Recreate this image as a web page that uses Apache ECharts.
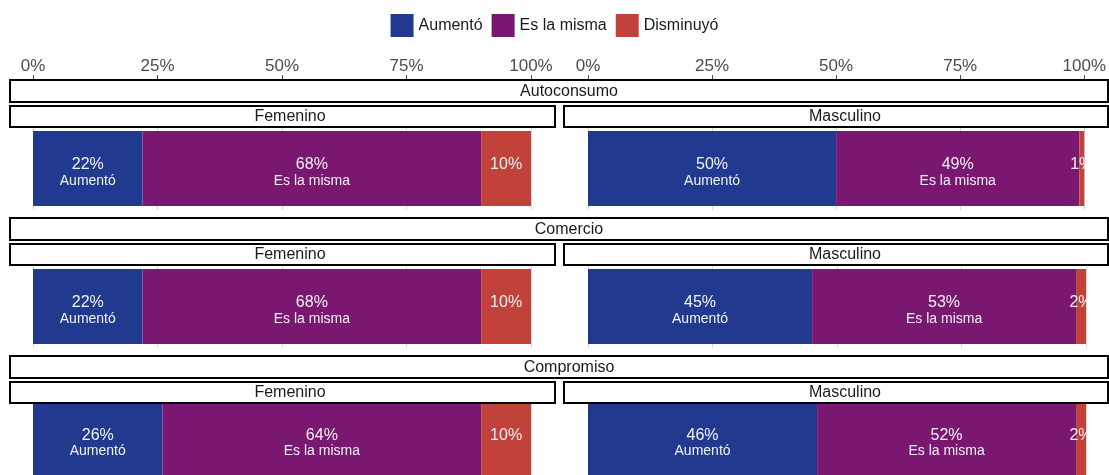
<!DOCTYPE html>
<html>
<head>
<meta charset="utf-8">
<script src="https://cdn.jsdelivr.net/npm/echarts@6/dist/echarts.min.js"></script>
<style>html,body{margin:0;padding:0;background:#fff;}#c{width:1109px;height:475px;}</style>
</head>
<body>
<div id="c"></div>
<script>
const categories = ['Autoconsumo', 'Comercio', 'Compromiso'];
const panels = ['Femenino', 'Masculino'];
const seriesNames = ['Aumentó', 'Es la misma', 'Disminuyó'];
const femAumento = [22, 22, 26];
const femMisma = [68, 68, 64];
const femDisminuyo = [10, 10, 10];
const masAumento = [50, 45, 46];
const masMisma = [49, 53, 52];
const masDisminuyo = [1, 2, 2];
const tickLabels = ['0%', '25%', '50%', '75%', '100%'];

const colors = ['#213A8F', '#7A1771', '#C0423A'];
const FONT = '"Liberation Sans", Arial, Helvetica, sans-serif';
const values = [
  [femAumento, femMisma, femDisminuyo],
  [masAumento, masMisma, masDisminuyo]
];

const rowStep = 138;
const colLeft = [33, 588];
const plotW = 498;

const grids = [], xAxes = [], yAxes = [], series = [], graphics = [];
let gi = 0;
for (let r = 0; r < categories.length; r++) {
  for (let c = 0; c < panels.length; c++) {
    grids.push({ left: colLeft[c], width: plotW, top: 127 + rowStep * r, height: 83, containLabel: false });
    xAxes.push({
      type: 'value', gridIndex: gi, min: 0, max: 100, interval: 25,
      position: 'top', offset: r === 0 ? 47 : 0,
      axisLine: { show: false },
      axisTick: { show: r === 0, length: 5, lineStyle: { color: '#4d4d4d' } },
      axisLabel: {
        show: r === 0, margin: 5, fontSize: 17, color: '#4d4d4d', fontFamily: FONT,
        formatter: v => tickLabels[Math.round(v / 25)]
      },
      splitLine: { show: true, lineStyle: { color: '#d9d9d9', width: 1 } }
    });
    yAxes.push({
      type: 'category', gridIndex: gi, data: [categories[r]],
      show: false
    });
    for (let s = 0; s < seriesNames.length; s++) {
      const v = values[c][s][r];
      series.push({
        name: seriesNames[s], type: 'bar', stack: 'st' + gi,
        xAxisIndex: gi, yAxisIndex: gi, barWidth: 75,
        itemStyle: { color: colors[s] },
        data: [v],
        label: {
          show: true, position: 'inside', offset: [0, 4],
          formatter: s < 2 ? ('{p|' + v + '%}\n{n|' + seriesNames[s] + '}') : ('{p|' + v + '%}\n{n| }'),
          rich: {
            p: { fontSize: 16, lineHeight: 17, color: '#f2f2f2', fontFamily: FONT },
            n: { fontSize: 14, lineHeight: 15, color: '#f2f2f2', fontFamily: FONT }
          }
        },
        emphasis: { disabled: true },
        animation: false
      });
    }
    gi++;
  }
  // strips
  const y0 = 80 + rowStep * r;
  graphics.push({
    type: 'rect', z: 50,
    shape: { x: 10, y: y0, width: 1098, height: 22 },
    style: { fill: '#ffffff', stroke: '#000000', lineWidth: 2 }
  });
  graphics.push({
    type: 'text', z: 51, x: 569, y: y0 + 11.5,
    style: { text: categories[r], align: 'center', verticalAlign: 'middle', font: '16px ' + FONT, fill: '#1a1a1a' }
  });
  const subX = [10, 564], subW = [545, 544], subC = [290, 845];
  for (let c = 0; c < 2; c++) {
    graphics.push({
      type: 'rect', z: 50,
      shape: { x: subX[c], y: y0 + 26, width: subW[c], height: 21 },
      style: { fill: '#ffffff', stroke: '#000000', lineWidth: 2 }
    });
    graphics.push({
      type: 'text', z: 51, x: subC[c], y: y0 + 36.5,
      style: { text: panels[c], align: 'center', verticalAlign: 'middle', font: '16px ' + FONT, fill: '#1a1a1a' }
    });
  }
  // mask beyond the right panel's 100% line (labels are clipped there in the reference)
  graphics.push({
    type: 'rect', z: 60,
    shape: { x: 1087, y: 128 + rowStep * r, width: 30, height: 82 },
    style: { fill: '#ffffff' }
  });
}

const chart = echarts.init(document.getElementById('c'), null, { renderer: 'canvas' });
chart.setOption({
  animation: false,
  color: colors,
  textStyle: { fontFamily: FONT },
  legend: {
    top: 9, left: 'center', data: seriesNames,
    icon: 'rect', itemWidth: 23, itemHeight: 23, itemGap: 9,
    textStyle: { fontSize: 16, color: '#1a1a1a', fontFamily: FONT },
    selectedMode: false
  },
  grid: grids,
  xAxis: xAxes,
  yAxis: yAxes,
  series: series,
  graphic: { elements: graphics }
});
</script>
</body>
</html>
